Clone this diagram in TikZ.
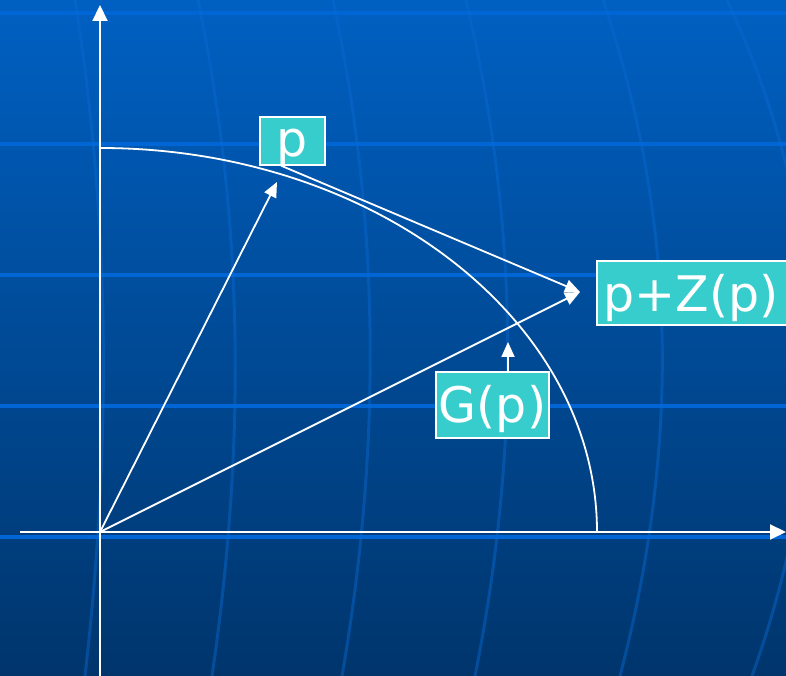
\documentclass[tikz,border=0pt]{standalone}
\usepackage{fontspec}
\setmainfont{DejaVu Sans}
\usetikzlibrary{calc,positioning,arrows.meta}
\definecolor{bgtop}{RGB}{0,96,194}
\definecolor{bgbottom}{RGB}{0,53,108}
\definecolor{gridblue}{RGB}{0,102,214}
\definecolor{curveblue}{RGB}{10,105,210}
\definecolor{labelcyan}{RGB}{56,205,205}

\begin{document}
\begin{tikzpicture}[
  x=1pt,y=1pt,
  color=white,
  hgrid/.style={draw=gridblue,line width=4pt},
  vgrid/.style={draw=curveblue,line width=3pt,opacity=.45},
  axis/.style={draw=white,line width=2pt,-{Triangle[length=16pt,width=15pt]}},
  vec/.style={draw=white,line width=1.8pt,-{Triangle[length=15pt,width=13pt]}},
  lbl/.style={rectangle,fill=labelcyan,draw=white,line width=1.5pt,inner sep=0pt,text=white,font=\fontsize{49}{57}\selectfont},
  ]

  \useasboundingbox (0,0) rectangle (786,676);
  \clip (0,0) rectangle (786,676);
  \fill[top color=bgtop,bottom color=bgbottom,draw=none] (0,0) rectangle (786,676);

  % background grid
  \foreach \y in {0,...,4}
  {
    \draw[hgrid] (0,663-131*\y) -- (786,663-131*\y);
  }
  \foreach \t/\c/\b in {75/111/85,198/245/212,333/381/342,466/520/475,603/679/620,727/833/752}
  {
    \draw[vgrid] (\t,676) .. controls (\c,450) and (\c,226) .. (\b,0);
  }

  % axes
  \coordinate (origin) at (100,144);
  \coordinate (y_start) at (100,0);
  \coordinate (y_top) at (100,671);
  \coordinate (x_start) at (20,144);
  \coordinate (x_end) at (786,144);
  \draw[axis] (y_start) -- (y_top);
  \draw[axis] (x_start) -- (x_end);

  % quarter ellipse
  \draw[line width=1.8pt] (100,528) arc[start angle=90,end angle=0,x radius=497pt,y radius=384pt];

  \coordinate (tip_p) at (277,494);
  \coordinate (tip_pz) at (580,384);
  \coordinate (tip_g) at (508,334);
  \draw[vec] (origin) -- (tip_p);
  \draw[vec] (origin) -- (tip_pz);

  \node (label_p) [lbl,minimum width=65pt,text height=40pt,text depth=8pt,anchor=base] at (292.5,519) {p};
  \node (label_pz) [lbl,inner xsep=7pt,text height=51pt,text depth=13pt,anchor=base west] at (596,364) {\makebox[185pt][l]{p+Z(p)}};
  \node (label_g) [lbl,minimum width=113pt,text height=51pt,text depth=15pt,anchor=base] at (492.5,253) {G(p)};

  \draw[vec] ($(label_p.south west)+(22,0)$) -- (tip_pz);
  \draw[vec] ($(label_g.north)+(15.5,0)$) -- (tip_g);

\end{tikzpicture}
\end{document}
